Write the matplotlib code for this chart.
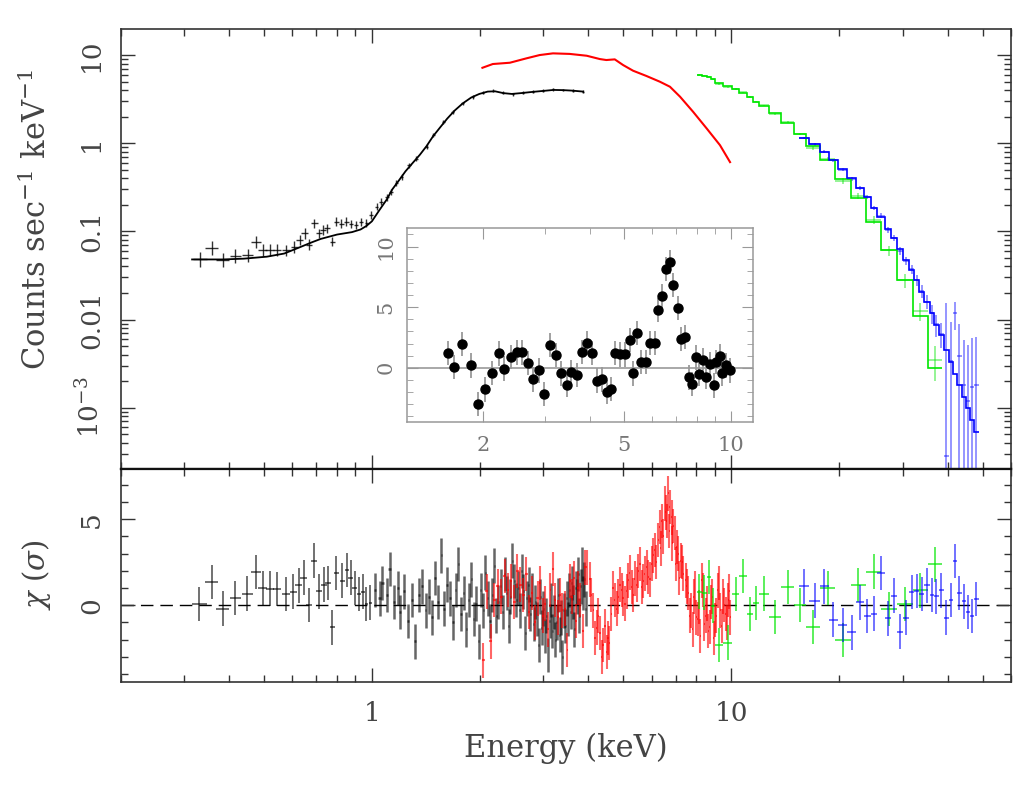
import numpy as np
import matplotlib
matplotlib.use("Agg")
import matplotlib.pyplot as plt
from matplotlib.ticker import FixedLocator, FixedFormatter, NullFormatter, LogLocator

plt.rcParams['font.family'] = ['DejaVu Serif']
plt.rcParams['mathtext.fontset'] = 'dejavuserif'

# ---------------- data: upper panel ----------------
# black (low-energy instrument) data points
bk_up_E = [0.333,0.358,0.385,0.417,0.451,0.476,0.497,0.519,0.545,0.577,
           0.609,0.629,0.650,0.668,0.692,0.712,0.730,0.751,0.776,0.796,
           0.822,0.849,0.876,0.905,0.934,0.965,0.996,1.03,1.06,1.10,
           1.13,1.17,1.21,1.27,1.33,1.42,1.48,1.58,1.68,1.79,
           1.91,2.04,2.17,2.32,2.47,2.63,2.81,3.00,3.19,3.40,3.63,3.87]
bk_up_y = [0.048,0.064,0.0468,0.0526,0.0537,0.076,0.061,0.061,0.061,0.061,
           0.0668,0.0801,0.0947,0.0704,0.123,0.0947,0.104,0.108,0.076,0.129,
           0.122,0.129,0.122,0.118,0.129,0.125,0.153,0.19,0.217,0.245,
           0.28,0.35,0.418,0.56,0.67,0.91,1.24,1.75,2.27,2.83,
           3.36,3.73,3.94,3.73,3.58,3.73,3.83,3.94,4.08,4.01,3.94,3.83]
bk_up_dex_y = [0.08,0.08,0.08,0.075,0.075,0.07,0.07,0.07,0.07,0.065,
               0.065,0.06,0.06,0.06,0.055,0.055,0.055,0.05,0.05,0.05,
               0.05,0.05,0.045,0.045,0.045,0.045,0.045,0.04,0.04,0.04,
               0.035,0.035,0.035,0.03,0.03,0.03,0.025,0.025,0.02,0.02,
               0.02,0.015,0.015,0.015,0.015,0.015,0.015,0.015,0.015,0.015,0.015,0.015]
bk_up_dex_x = [0.020,0.018,0.018,0.016,0.015,0.013,0.012,0.012,0.011,0.011,
               0.010,0.010,0.009,0.009,0.009,0.008,0.008,0.008,0.007,0.007,
               0.007,0.006,0.006,0.006,0.006,0.005,0.005,0.005,0.005,0.005,
               0.005,0.005,0.005,0.005,0.005,0.004,0.004,0.004,0.004,0.004,
               0.003,0.003,0.003,0.003,0.003,0.003,0.003,0.003,0.003,0.003,0.003,0.003]
# black model curve
bk_mod_E = [0.316,0.385,0.44,0.51,0.57,0.63,0.68,0.72,0.80,0.88,0.93,0.965,1.0,1.05,
            1.10,1.14,1.19,1.24,1.30,1.36,1.42,1.48,1.55,1.62,1.70,1.79,1.89,1.99,
            2.10,2.20,2.32,2.45,2.60,2.80,3.00,3.20,3.40,3.60,3.87]
bk_mod_y = [0.048,0.048,0.049,0.0516,0.056,0.066,0.075,0.082,0.092,0.098,0.105,0.115,0.13,0.175,
            0.23,0.30,0.38,0.48,0.60,0.74,0.93,1.20,1.52,1.90,2.35,2.83,3.30,3.62,
            3.85,3.88,3.70,3.62,3.70,3.82,3.92,4.02,4.00,3.95,3.85]
# red spectrum (dense, appears as a curve)
rd_up_E = [2.03,2.17,2.42,2.69,2.93,3.19,3.55,3.96,4.31,4.49,4.74,5.00,5.33,5.81,
           6.33,6.75,7.20,7.83,8.54,9.30,9.92]
rd_up_y = [7.17,7.91,8.18,9.17,10.0,10.45,10.3,9.82,9.0,8.78,8.93,7.7,6.64,5.78,
           4.98,4.37,3.37,2.27,1.47,0.95,0.61]
# green spectrum: bin edges, model levels, data
gr_edges = [8.01,8.27,8.54,8.76,9.01,9.50,10.03,10.53,11.04,11.47,11.97,12.76,13.73,
            14.98,16.18,17.66,19.49,21.51,23.68,26.17,28.88,32.01,35.16,38.64]
gr_model = [5.88,5.78,5.58,5.30,4.85,4.45,4.08,3.67,3.36,2.95,2.64,2.18,1.68,
            1.27,0.92,0.643,0.391,0.240,0.127,0.0612,0.0279,0.0109,0.00285]
gr_data = [5.92,5.82,5.70,5.30,4.70,4.30,4.12,3.78,3.33,2.96,2.68,2.15,1.73,
           1.27,0.88,0.66,0.37,0.25,0.135,0.061,0.028,0.0125,0.0035]
gr_data_err = [0.10,0.10,0.10,0.10,0.09,0.08,0.08,0.07,0.07,0.06,0.06,0.05,0.05,
               0.045,0.04,0.035,0.03,0.02,0.013,0.008,0.005,0.003,0.0015]
# blue spectrum: bin edges, model levels, data
bl_edges = [15.41,16.50,17.66,18.68,19.83,21.05,22.26,23.33,24.45,25.51,26.69,27.80,
            28.88,30.02,31.26,32.34,33.39,34.48,35.61,36.53,37.73,38.95,40.22,41.37,
            42.45,43.84,45.07,46.23,47.44,48.76]
bl_model = [1.143,0.969,0.799,0.643,0.508,0.399,0.312,0.243,0.186,0.145,0.105,0.0831,
            0.0623,0.0471,0.0369,0.0279,0.0206,0.0158,0.0117,0.00862,0.00664,0.00449,
            0.00330,0.00244,0.00180,0.00132,0.00098,0.00072,0.00053]
bl_data = [1.15,0.97,0.80,0.64,0.50,0.39,0.31,0.245,0.185,0.150,0.104,0.084,
           0.060,0.046,0.037,0.028,0.021,0.016,0.0118,0.0088,0.0069,0.00028,
           0.0034,0.0117,0.0039,0.0018,0.0012,0.0017,0.0018]
bl_err_up = [0.03,0.03,0.03,0.025,0.02,0.02,0.015,0.013,0.011,0.010,0.008,0.007,
             0.006,0.005,0.0045,0.004,0.0035,0.003,0.0028,0.0025,0.0022,0.015,
             0.006,0.004,0.005,0.004,0.004,0.0045,0.0045]
bl_err_lo = [0.03,0.03,0.03,0.025,0.02,0.02,0.015,0.013,0.011,0.010,0.008,0.007,
             0.006,0.005,0.0045,0.004,0.0035,0.003,0.0028,0.0025,0.0022,1.0,
             1.0,0.004,1.0,1.0,1.0,1.0,1.0]

# ---------------- data: residual panel ----------------
bk_res_lo_E = [0.331,0.358,0.385,0.417,0.450,0.476,0.497,0.520,0.545,0.577,
               0.605,0.625,0.646,0.668,0.690,0.712,0.734,0.754,0.776,0.796,
               0.827,0.852,0.872,0.895,0.920,0.944,0.965,0.990]
bk_res_lo_chi = [0.06,1.34,-0.19,0.43,0.68,1.92,1.00,0.97,0.93,0.66,
                 0.79,1.16,1.61,0.00,2.60,0.81,1.20,1.28,-1.28,1.86,
                 1.43,2.05,1.61,0.99,0.64,0.79,0.08,0.16]
bk_res_lo_dex = [0.020,0.018,0.018,0.016,0.015,0.013,0.012,0.012,0.011,0.011,
                 0.010,0.010,0.009,0.009,0.009,0.008,0.008,0.008,0.007,0.007,
                 0.007,0.006,0.006,0.006,0.006,0.005,0.005,0.005]
bk_res_hi_E = [1.02,1.05,1.07,1.10,1.12,1.15,1.18,1.20,1.23,1.26,1.29,1.32,1.35,1.38,1.41,
               1.44,1.47,1.50,1.53,1.56,1.59,1.62,1.65,1.68,1.71,1.74,1.77,1.80,1.83,1.86,
               1.89,1.92,1.95,1.98,2.01,2.04,2.07,2.10,2.13,2.16,2.19,2.22,2.25,2.28,2.31,
               2.34,2.37,2.40,2.43,2.46,2.49,2.52,2.55,2.58,2.61,2.64,2.67,2.70,2.73,2.76,
               2.79,2.82,2.85,2.88,2.91,2.94,2.97,3.00,3.03,3.06,3.09,3.12,3.15,3.18,3.21,
               3.24,3.27,3.30,3.33,3.36,3.39,3.42,3.45,3.48,3.51,3.54,3.57,3.60,3.63,3.66,
               3.69,3.72,3.75,3.78,3.81,3.84,3.87,3.90,3.93]
bk_res_hi_chi = [0.9,0.4,1.3,0.6,2.1,0.2,1.0,-0.4,0.8,-0.9,0.3,-2.1,0.6,1.1,-0.3,
                 0.5,-0.7,1.6,0.2,2.9,-0.2,1.2,0.4,-1.0,0.9,2.4,-0.5,0.7,-1.4,0.3,
                 1.5,-0.8,0.1,-2.1,0.9,-0.3,1.9,0.4,-0.9,0.6,2.3,-0.6,0.2,1.1,-0.4,
                 1.8,0.7,-1.2,0.5,2.6,1.4,0.3,1.0,-0.3,2.0,0.8,-1.6,0.4,1.2,-0.5,
                 0.9,-1.1,0.2,-0.8,-2.3,0.5,-1.3,-0.2,-1.8,-0.6,-2.9,-0.9,0.3,-1.5,-0.4,
                 -2.0,-1.0,0.6,-1.7,-0.7,-3.0,-0.3,-1.2,0.4,-0.8,0.9,-0.4,1.3,0.2,-1.4,
                 1.0,0.5,1.8,-0.6,1.1,2.4,0.7,1.5,-0.2]
rd_res_E = [2.04,2.09,2.14,2.19,2.24,2.29,2.34,2.39,2.44,2.49,2.54,2.59,2.64,2.69,2.74,
            2.79,2.84,2.89,2.94,2.99,3.04,3.09,3.14,3.19,3.24,3.29,3.34,3.39,3.44,3.50,
            3.55,3.60,3.65,3.70,3.75,3.80,3.86,3.91,
            3.96,4.04,4.13,4.22,4.31,4.40,4.50,4.54,4.64,4.74,4.85,4.95,5.06,5.17,5.28,
            5.39,5.51,5.63,5.75,5.87,6.00,6.13,6.26,6.33,6.40,6.47,6.54,6.61,6.68,6.75,
            6.82,6.90,6.97,7.04,7.12,7.24,7.35,7.46,7.59,7.72,7.86,7.99,8.13,8.27,8.41,
            8.56,8.71,8.86,9.01,9.17,9.32,9.48,9.65,9.81,9.94,
            4.08,4.18,4.27,4.36,4.45,4.58,4.69,4.80,4.90,5.00,5.11,5.22,5.34,5.45,5.57,
            5.69,5.81,5.94,6.06,6.19,6.37,6.58,6.72,6.86,7.00,7.16,7.30,7.52,7.66,7.80,
            7.93,8.06,8.20,8.34,8.48,8.63,8.78,8.93,9.09,9.24,9.40,9.56,9.73,9.87]
rd_res_chi = [-3.2,0.8,-2.1,0.3,1.1,0.5,1.7,0.9,1.4,0.2,2.0,1.2,0.6,1.8,-0.4,
              0.7,-1.0,0.4,1.3,-0.6,0.1,-1.4,0.9,2.1,0.3,-0.7,0.6,-0.3,-0.2,-2.6,
              1.4,0.5,1.6,-0.9,1.0,0.3,-1.5,2.2,
              2.2,1.5,-0.3,-1.3,-1.6,-2.3,-2.7,-1.9,-0.5,0.3,0.5,0.9,0.1,1.45,1.07,
              1.55,2.0,1.07,1.84,1.65,2.42,3.2,3.8,4.55,4.9,4.0,5.9,4.9,6.5,5.7,
              5.1,4.6,4.2,3.4,3.0,2.6,1.84,1.45,0.7,-0.3,0.5,-0.7,-0.1,1.45,-1.07,
              0.1,-1.26,0.5,-0.87,0.87,-0.3,0.5,-0.5,0.3,-0.7,
              0.6,-1.9,-0.6,-3.0,-1.2,-2.2,1.0,-0.2,1.2,0.4,0.8,1.9,0.6,1.2,2.4,
              1.4,2.2,1.5,2.9,2.5,3.3,5.4,4.3,3.6,2.4,1.6,2.5,1.1,-0.6,-1.4,
              1.0,-0.8,-1.8,0.9,-0.6,-1.5,0.2,-1.9,-0.6,1.3,-1.2,0.0,-1.0,0.8]
gr_res_chi = [0.79,0.74,1.63,-0.02,-2.3,-2.17,0.64,1.69,-0.52,0.12,0.68,-0.68,1.07,
              0.0,-1.26,0.99,-2.03,1.18,1.96,-0.23,0.06,0.87,2.38]
bl_res_chi = [1.1,0.27,1.1,-0.83,-1.14,-1.57,0.17,-0.62,-0.48,1.86,-0.76,0.56,-1.53,
              -0.72,0.76,0.83,0.66,1.16,0.6,0.52,0.87,-0.72,0.29,2.58,0.7,0.23,-0.39,
              -0.62,0.37]

# ---------------- data: inset ----------------
in_E = [1.59,1.66,1.75,1.85,1.94,2.03,2.12,2.22,2.30,2.40,
        2.50,2.58,2.68,2.77,2.87,2.98,3.10,3.21,3.32,3.44,
        3.55,3.68,3.81,3.93,4.05,4.18,4.33,4.46,4.58,4.70,
        4.86,5.03,5.18,5.31,5.45,5.58,5.77,5.93,6.09,6.22,
        6.40,6.55,6.72,6.87,7.07,7.23,7.40,7.60,7.76,7.96,
        8.14,8.32,8.52,8.71,8.93,9.09,9.29,9.45,9.68,9.94]
in_chi = [1.24,0.05,1.98,0.19,-2.98,-1.79,-0.41,1.18,-0.06,0.91,
          1.27,1.27,0.41,-0.96,-0.22,-2.18,1.87,1.05,-0.47,-1.38,
          -0.36,-0.61,1.32,2.07,1.24,-1.05,-0.96,-1.98,-1.76,1.21,
          1.10,1.10,2.29,-0.47,2.89,0.50,0.50,2.04,2.04,4.77,
          5.95,8.13,8.73,6.83,4.96,2.37,2.53,-0.80,-1.32,0.85,
          -0.52,0.61,-0.72,0.33,-1.46,0.50,0.96,-0.47,0.19,-0.22]

# ---------------- figure ----------------
TXT = '#444444'
SP = '#333333'
RED = '#ff0000'
GRN = '#00e600'
BLU = '#0000ff'

fig = plt.figure(figsize=(10.22, 7.85), dpi=100)
ax1 = fig.add_axes([0.1181, 0.4022, 0.8711, 0.5605])
ax2 = fig.add_axes([0.1181, 0.1316, 0.8711, 0.2706])


def xerr_from_dex(E, d):
    E = np.asarray(E, float)
    d = np.asarray(d, float)
    return [E - E * 10 ** (-d), E * 10 ** d - E]


def centers(edges):
    e = np.asarray(edges, float)
    return np.sqrt(e[:-1] * e[1:])


def halfw(edges):
    e = np.asarray(edges, float)
    c = centers(edges)
    return [c - e[:-1], e[1:] - c]


# ---- upper panel ----
ax1.set_xscale('log')
ax1.set_yscale('log')
ax1.set_xlim(0.2, 60)
ax1.set_ylim(2e-4, 19.6)

E = np.asarray(bk_up_E)
y = np.asarray(bk_up_y)
dy = np.asarray(bk_up_dex_y)
ax1.errorbar(E, y, yerr=[y - y * 10 ** (-dy), y * 10 ** dy - y],
             xerr=xerr_from_dex(bk_up_E, bk_up_dex_x), fmt='none',
             ecolor='k', elinewidth=1.0, alpha=0.8, zorder=3)
ax1.plot(bk_mod_E, bk_mod_y, color='k', lw=1.3, zorder=4)
ax1.plot(rd_up_E, rd_up_y, color=RED, lw=1.5, zorder=4)

gc = centers(gr_edges)
gd = np.asarray(gr_data)
ax1.errorbar(gc, gd, yerr=gr_data_err, xerr=halfw(gr_edges), fmt='none',
             ecolor=GRN, elinewidth=1.3, alpha=0.45, zorder=3)
ax1.stairs(gr_model, gr_edges, color=GRN, lw=1.2, baseline=None, zorder=4)

bc = centers(bl_edges)
bd = np.asarray(bl_data)
lo = np.asarray(bl_err_lo)
lo = np.where(bd - lo > 0, lo, bd - 1e-6)
ax1.errorbar(bc, bd, yerr=[lo, bl_err_up], xerr=halfw(bl_edges), fmt='none',
             ecolor=BLU, elinewidth=1.3, alpha=0.45, zorder=3)
ax1.stairs(bl_model, bl_edges, color=BLU, lw=1.2, baseline=None, zorder=4)

# ---- residual panel ----
ax2.set_xscale('log')
ax2.set_xlim(0.2, 60)
ax2.set_ylim(-4.44, 7.9)
ax2.axhline(0, color='k', lw=1.0, dashes=(9, 5), zorder=1)

ax2.errorbar(bk_res_lo_E, bk_res_lo_chi, yerr=1.0,
             xerr=xerr_from_dex(bk_res_lo_E, bk_res_lo_dex), fmt='none',
             ecolor='k', elinewidth=1.2, alpha=0.65, zorder=3)
ax2.errorbar(bk_res_hi_E, bk_res_hi_chi, yerr=1.0, xerr=0.008, fmt='none',
             ecolor='k', elinewidth=1.8, alpha=0.6, zorder=3)
ax2.errorbar(rd_res_E, rd_res_chi, yerr=1.0, xerr=0.02, fmt='none',
             ecolor=RED, elinewidth=1.5, alpha=0.6, zorder=4)
ax2.errorbar(centers(gr_edges), gr_res_chi, yerr=1.0, xerr=halfw(gr_edges), fmt='none',
             ecolor=GRN, elinewidth=1.2, alpha=0.75, zorder=4)
ax2.errorbar(centers(bl_edges), bl_res_chi, yerr=1.0, xerr=halfw(bl_edges), fmt='none',
             ecolor=BLU, elinewidth=1.2, alpha=0.65, zorder=4)

# ---- ticks & spines ----
for ax in (ax1, ax2):
    ax.tick_params(which='both', direction='in', top=True, right=True,
                   color=SP, labelcolor=TXT, labelsize=19)
    ax.tick_params(which='major', length=10, width=1.0)
    ax.tick_params(which='minor', length=5, width=1.0)
    ax.xaxis.set_major_locator(FixedLocator([1, 10]))
    ax.xaxis.set_minor_locator(LogLocator(base=10, subs=np.arange(2, 10)))
    ax.xaxis.set_minor_formatter(NullFormatter())
    for s in ax.spines.values():
        s.set_color(SP)
        s.set_linewidth(1.2)

ax1.spines['bottom'].set_linewidth(1.6)
ax2.spines['top'].set_linewidth(1.6)
ax1.spines['bottom'].set_color('#111111')
ax2.spines['top'].set_color('#111111')

ax1.xaxis.set_major_formatter(NullFormatter())
ax1.yaxis.set_major_locator(FixedLocator([1e-3, 1e-2, 0.1, 1, 10]))
ax1.yaxis.set_major_formatter(FixedFormatter([r'$10^{-3}$', '0.01', '0.1', '1', '10']))
ax1.yaxis.set_minor_locator(LogLocator(base=10, subs=np.arange(2, 10)))
ax1.yaxis.set_minor_formatter(NullFormatter())

ax2.xaxis.set_major_formatter(FixedFormatter(['1', '10']))
ax2.yaxis.set_major_locator(FixedLocator([0, 5]))
ax2.yaxis.set_minor_locator(FixedLocator(list(range(-4, 8))))
ax2.tick_params(axis='x', pad=14)

for ax in (ax1, ax2):
    ax.tick_params(axis='y', pad=12)
    for t in ax.get_yticklabels():
        t.set_rotation(90)
        t.set_va('center')

# ---- labels ----
fig.text(0.036, 1 - 220 / 785, r'Counts sec$^{-1}$ keV$^{-1}$', rotation=90,
         ha='center', va='center', fontsize=22, color=TXT)
fig.text(0.036, 1 - 575 / 785, r'$\chi$ ($\sigma$)', rotation=90,
         ha='center', va='center', fontsize=21, color=TXT)
fig.text(0.554, 1 - 748 / 785, 'Energy (keV)', ha='center', va='center',
         fontsize=22, color=TXT)

# ---- inset ----
axi = fig.add_axes([0.398, 0.462, 0.3391, 0.2471])
axi.set_zorder(10)
axi.set_facecolor('white')
axi.set_xscale('log')
axi.set_xlim(1.22, 11.56)
axi.set_ylim(-4.5, 11.5)
axi.axhline(0, color='#999999', lw=1.2, zorder=1)
axi.errorbar(in_E, in_chi, yerr=1.0, fmt='o', color='k', ms=6.5,
             ecolor='#999999', elinewidth=1.3, zorder=3)
axi.xaxis.set_major_locator(FixedLocator([2, 5, 10]))
axi.xaxis.set_major_formatter(FixedFormatter(['2', '5', '10']))
axi.xaxis.set_minor_locator(FixedLocator([3, 4, 6, 7, 8, 9]))
axi.xaxis.set_minor_formatter(NullFormatter())
axi.yaxis.set_major_locator(FixedLocator([0, 5, 10]))
axi.yaxis.set_minor_locator(FixedLocator(list(range(-4, 12))))
axi.tick_params(which='both', direction='in', top=True, right=True,
                color='#999999', labelcolor='#777777', labelsize=15)
axi.tick_params(which='major', length=8)
axi.tick_params(which='minor', length=4)
axi.tick_params(axis='x', pad=10)
axi.tick_params(axis='y', pad=8)
for t in axi.get_yticklabels():
    t.set_rotation(90)
    t.set_va('center')
for s in axi.spines.values():
    s.set_color('#999999')
    s.set_linewidth(1.1)

fig.savefig('out.png', dpi=100)
